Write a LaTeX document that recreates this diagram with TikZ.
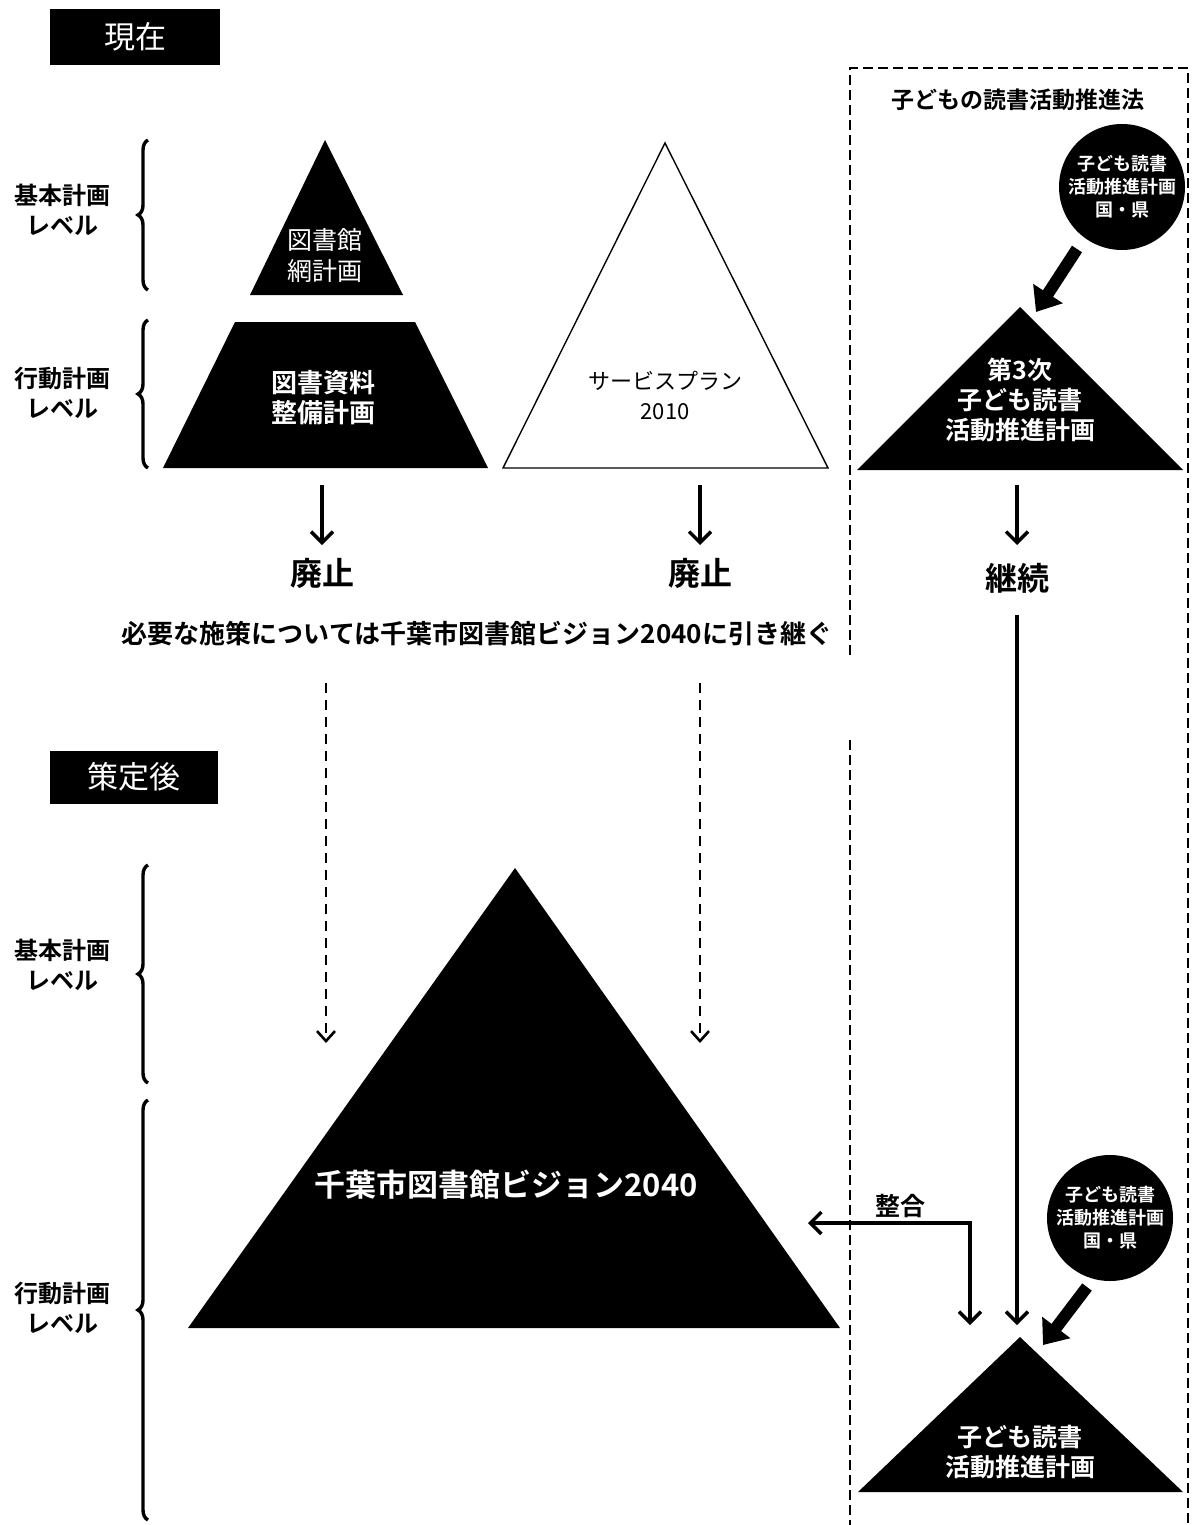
\documentclass[tikz,border=0pt]{standalone}
\usepackage{fontspec}
\setmainfont{Noto Sans CJK JP}[BoldFont={Noto Sans CJK JP Bold}]
\usetikzlibrary{arrows.meta,decorations.pathreplacing}
\begin{document}
\begin{tikzpicture}[x=1pt,y=-1pt,
  lbl/.style={align=center,font=\bfseries\fontsize{24}{30}\selectfont,inner sep=0},
  hdr/.style={fill=black,text=white,font=\fontsize{31}{34}\selectfont,minimum width=170,minimum height=56,inner sep=0},
  brc/.style={draw,line width=3.4pt,decorate,decoration={brace,amplitude=10pt}},
  blk/.style={fill=black},
  wtxt/.style={text=white,align=center,font=\bfseries\fontsize{19}{24}\selectfont,inner sep=0},
  arr/.style={line width=3.4pt,-{Straight Barb[length=11pt,width=22pt,line width=3.4pt]}},
  darr/.style={line width=2.6pt,dash pattern=on 10pt off 7pt,-{Straight Barb[length=10pt,width=18pt,line width=2.6pt]}},
  fat/.style={line width=12pt,-{Triangle[length=22pt,width=34pt]}},
  big/.style={font=\bfseries\fontsize{32}{36}\selectfont,inner sep=0},
  bxline/.style={line width=1.2pt,dash pattern=on 10pt off 5pt}
]
\useasboundingbox (0,0) rectangle (1191,1525);

% headers
\node[hdr] (now) at (135,37) {現在};
\node[hdr,minimum width=168,minimum height=53] (after) at (134,777) {策定後};

% level labels and braces
\node[lbl] (l1) at (62,210) {基本計画\\レベル};
\node[lbl] (l2) at (62,393) {行動計画\\レベル};
\node[lbl] (l3) at (62,965) {基本計画\\レベル};
\node[lbl] (l4) at (62,1308) {行動計画\\レベル};
\draw[brc] (148,290) -- (148,140);
\draw[brc] (148,468) -- (148,320);
\draw[brc] (148,1083) -- (148,865);
\draw[brc] (148,1520) -- (148,1100);

% top-left black triangle and trapezoid
\fill[blk] (325,140) -- (403,295) -- (250,295) -- cycle;
\node[wtxt,font=\fontsize{25}{31}\selectfont] (net) at (325,255) {図書館\\網計画};
\fill[blk] (235,322) -- (415,322) -- (488,468) -- (163,468) -- cycle;
\node[wtxt,font=\bfseries\fontsize{26}{30}\selectfont] (shiryo) at (323,398) {図書資料\\整備計画};

% white triangle
\draw[line width=1.4pt] (665,143) -- (828,468) -- (503,468) -- cycle;
\node[align=center,font=\fontsize{22}{30}\selectfont,inner sep=0] (sp) at (665,395) {サービスプラン\\2010};

% abolish arrows
\coordinate (a1s) at (322,485); \coordinate (a1e) at (322,545);
\coordinate (a2s) at (700,485); \coordinate (a2e) at (700,545);
\draw[arr] (a1s) -- (a1e);
\draw[arr] (a2s) -- (a2e);
\node[big] (h1) at (322,573) {廃止};
\node[big] (h2) at (700,573) {廃止};

\node[font=\bfseries\fontsize{26}{30}\selectfont,inner sep=0] (msg) at (477,634) {必要な施策については千葉市図書館ビジョン2040に引き継ぐ};

% dashed arrows
\coordinate (d1s) at (326,683); \coordinate (d1e) at (326,1043);
\coordinate (d2s) at (700,683); \coordinate (d2e) at (700,1043);
\draw[darr] (d1s) -- (d1e);
\draw[darr] (d2s) -- (d2e);

% big triangle
\fill[blk] (515,868) -- (840,1328) -- (188,1328) -- cycle;
\node[wtxt,font=\bfseries\fontsize{31}{36}\selectfont] (vision) at (506,1185) {千葉市図書館ビジョン2040};

% dashed box
\draw[bxline] (850,655) -- (850,68) -- (1188,68) -- (1188,1525);
\draw[bxline] (850,740) -- (850,1525);
\node[font=\bfseries\fontsize{23}{26}\selectfont,inner sep=0] (law) at (1018,100) {子どもの読書活動推進法};

% top circle and triangle
\node[circle,fill=black,minimum size=126,inner sep=0] (c1) at (1122,187) {};
\node[wtxt,font=\bfseries\fontsize{18}{23}\selectfont] at (c1) {子ども読書\\活動推進計画\\国・県};
\fill[blk] (1020,307) -- (1183,470) -- (857,470) -- cycle;
\coordinate (t3top) at (1036,312);
\draw[fat] (1077,249) -- (t3top);
\node[wtxt,font=\bfseries\fontsize{25}{30}\selectfont] (third) at (1020,400) {第3次\\子ども読書\\活動推進計画};

\coordinate (k1s) at (1017,485); \coordinate (k1e) at (1017,545);
\draw[arr] (k1s) -- (k1e);
\node[big] (cont) at (1017,578) {継続};

% long arrow
\coordinate (ls) at (1017,615); \coordinate (le) at (1017,1325);
\draw[arr] (ls) -- (le);

% bottom circle and triangle
\node[circle,fill=black,minimum size=126,inner sep=0] (c2) at (1110,1218) {};
\node[wtxt,font=\bfseries\fontsize{18}{23}\selectfont] at (c2) {子ども読書\\活動推進計画\\国・県};
\fill[blk] (1020,1337) -- (1183,1492) -- (858,1492) -- cycle;
\coordinate (t4top) at (1043,1345);
\draw[fat] (1087,1287) -- (t4top);
\node[wtxt,font=\bfseries\fontsize{25}{30}\selectfont] (kodomo) at (1020,1452) {子ども読書\\活動推進計画};

% seigo arrow
\coordinate (s1) at (970,1325);
\coordinate (s2) at (808,1223);
\draw[line width=3.4pt,{Straight Barb[length=11pt,width=22pt,line width=3.4pt]}-{Straight Barb[length=11pt,width=22pt,line width=3.4pt]}] (s2) -- (970,1223) -- (s1);
\node[font=\bfseries\fontsize{25}{28}\selectfont,inner sep=0] (sg) at (900,1206) {整合};
\end{tikzpicture}
\end{document}
